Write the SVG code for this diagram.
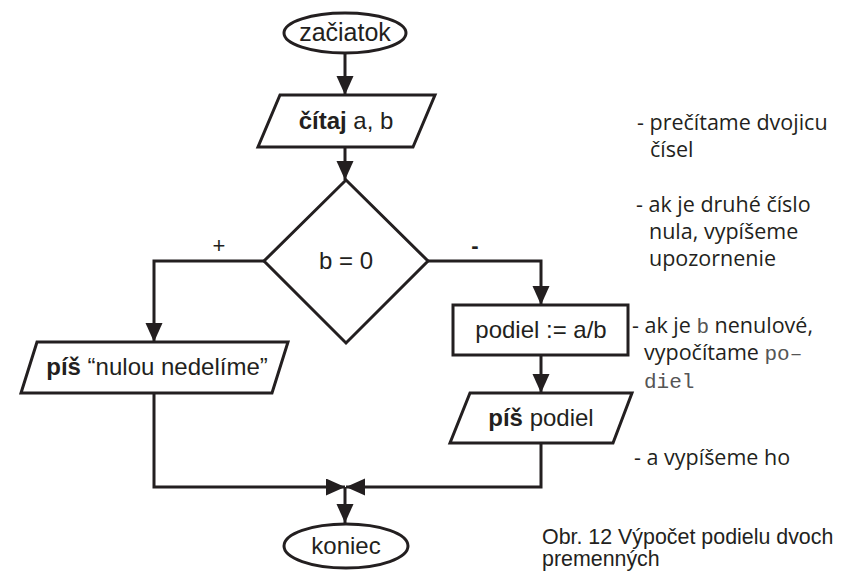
<svg xmlns="http://www.w3.org/2000/svg" width="847" height="571" viewBox="0 0 847 571">
  <style>
    .shape { fill: #ffffff; stroke: #231f20; stroke-width: 3; }
    .wire { fill: none; stroke: #231f20; stroke-width: 3; }
    .lbl { font-family: "Liberation Sans", Arial, sans-serif; font-size: 24px; fill: #231f20; text-anchor: middle; }
    .b { font-weight: bold; }
    .note { font-family: "Open Sans", "Noto Sans", sans-serif; font-size: 21.5px; fill: #231f20; }
    .code { font-family: "Liberation Mono", "Courier New", monospace; font-size: 21px; fill: #555555; }
    .cap { font-family: "Liberation Sans", Arial, sans-serif; font-size: 21.4px; fill: #231f20; }
  </style>
  <defs>
    <marker id="arrow" markerUnits="userSpaceOnUse" markerWidth="20" markerHeight="18" refX="19" refY="8.5" orient="auto">
      <path d="M0,0 L19,8.5 L0,17 z" fill="#231f20"/>
    </marker>
  </defs>
  <rect width="847" height="571" fill="#ffffff"/>

  <!-- connectors -->
  <g id="connectors">
    <path class="wire" d="M345,54 V95" marker-end="url(#arrow)"/>
    <path class="wire" d="M345,147 V180" marker-end="url(#arrow)"/>
    <path class="wire" d="M264,261 H154 V342" marker-end="url(#arrow)"/>
    <path class="wire" d="M428,261 H541 V305" marker-end="url(#arrow)"/>
    <path class="wire" d="M541,355 V393" marker-end="url(#arrow)"/>
    <path class="wire" d="M154,393 V487 H345" marker-end="url(#arrow)"/>
    <path class="wire" d="M541,443 V487 H346" marker-end="url(#arrow)"/>
    <path class="wire" d="M345,487 V523" marker-end="url(#arrow)"/>
    <text class="lbl" x="219" y="253" style="font-size:22px">+</text>
    <text class="lbl b" x="475" y="253" style="font-size:22px">-</text>
  </g>

  <g id="start">
    <ellipse class="shape" cx="345" cy="33" rx="61" ry="20"/>
    <text class="lbl" x="345" y="41" style="font-size:25px">začiatok</text>
  </g>

  <g id="read">
    <polygon class="shape" points="280,95 435,95 413,147 258,147"/>
    <text class="lbl" x="346" y="129"><tspan class="b">čítaj</tspan> a, b</text>
  </g>

  <g id="decision">
    <polygon class="shape" points="346,180 428,261 346,343 264,261"/>
    <text class="lbl" x="346" y="269">b = 0</text>
  </g>

  <g id="write-zero">
    <polygon class="shape" points="37,342 288,342 272,393 21,393"/>
    <text class="lbl" x="157" y="375"><tspan class="b">píš</tspan> “nulou nedelíme”</text>
  </g>

  <g id="divide">
    <rect class="shape" x="453" y="305" width="175" height="50"/>
    <text class="lbl" x="541" y="338">podiel := a/b</text>
  </g>

  <g id="write-result">
    <polygon class="shape" points="470,393 632,393 613,443 450,443"/>
    <text class="lbl" x="541" y="426"><tspan class="b">píš</tspan> podiel</text>
  </g>

  <g id="end">
    <ellipse class="shape" cx="346" cy="546" rx="62" ry="22"/>
    <text class="lbl" x="346" y="554">koniec</text>
  </g>

  <!-- side notes -->
  <g id="notes">
    <text class="note" x="637" y="130">- prečítame dvojicu</text>
    <text class="note" x="650" y="157">čísel</text>
    <text class="note" x="636" y="212">- ak je druhé číslo</text>
    <text class="note" x="649" y="239">nula, vypíšeme</text>
    <text class="note" x="649" y="266">upozornenie</text>
    <text class="note" x="632" y="333">- ak je <tspan class="code">b</tspan> nenulové,</text>
    <text class="note" x="644" y="360">vypočítame <tspan class="code">po–</tspan></text>
    <text class="code" x="644" y="388">diel</text>
    <text class="note" x="634" y="465">- a vypíšeme ho</text>
  </g>

  <g id="caption">
    <text class="cap" x="542" y="544">Obr. 12 Výpočet podielu dvoch</text>
    <text class="cap" x="542" y="566">premenných</text>
  </g>
</svg>
